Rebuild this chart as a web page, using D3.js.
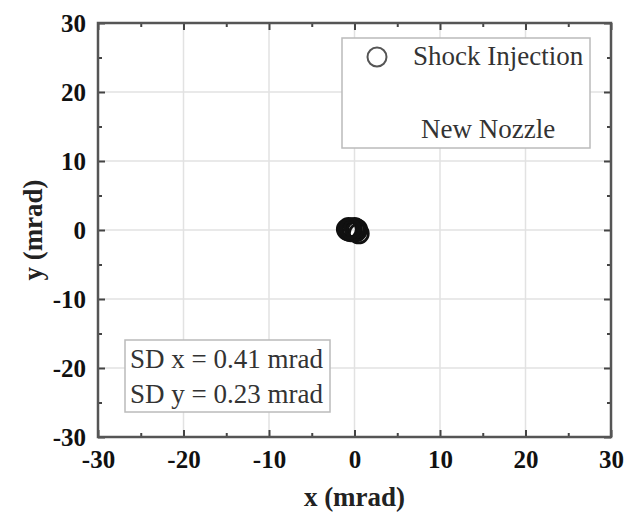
<!DOCTYPE html>
<html>
<head>
<meta charset="utf-8">
<script src="https://cdn.jsdelivr.net/npm/d3@7"></script>
<style>
body{margin:0;background:#fff}
text{font-family:"Liberation Serif","Times New Roman",serif}
</style>
</head>
<body>
<script>
const w=626
const h=516
const padL=98,padR=611,padT=23,padB=437

// shot positions (mrad)
const xs=[-0.9,-0.7,-0.5,-0.6,-0.3,-0.8,0.1,0.3,0.2,0.5,-0.4,0.0,-0.7,-0.5]
const ys=[0.1,0.3,0.0,-0.1,0.2,0.0,0.2,0.1,-0.2,-0.5,-0.2,0.3,0.1,0.2]
const majorTicks=[-30,-20,-10,0,10,20,30]
const minorTicks=[-25,-15,-5,5,15,25]
const legendLabels=["Shock Injection","New Nozzle"]
const sdLines=["SD x = 0.41 mrad","SD y = 0.23 mrad"]

const x=d3.scaleLinear().domain([-30,30]).range([padL,padR])
const y=d3.scaleLinear().domain([-30,30]).range([padB,padT])

const svg=d3.create("svg")
    .attr("width",w)
    .attr("height",h)

//grid
svg.append("g")
    .selectAll("line")
    .data(majorTicks.slice(1,-1))
    .enter().append("line")
    .attr("x1",d=>x(d)).attr("x2",d=>x(d))
    .attr("y1",padT).attr("y2",padB)
    .attr("stroke","#e2e2e2").attr("stroke-width",1.5)
svg.append("g")
    .selectAll("line")
    .data(majorTicks.slice(1,-1))
    .enter().append("line")
    .attr("x1",padL).attr("x2",padR)
    .attr("y1",d=>y(d)).attr("y2",d=>y(d))
    .attr("stroke","#e2e2e2").attr("stroke-width",1.5)

//axes, ticks pointing inward
function styleAxis(g){
    g.select(".domain").remove()
    g.selectAll("line").attr("stroke","#444").attr("stroke-width",2)
    g.selectAll("text")
        .attr("font-size",25)
        .attr("font-weight","bold")
        .attr("fill","#111")
        .attr("font-family","Liberation Serif")
}
const major=a=>a.tickValues(majorTicks).tickSizeInner(-7).tickSizeOuter(0)
const minor=a=>a.tickValues(minorTicks).tickSizeInner(-4).tickSizeOuter(0).tickFormat("")

svg.append("g").attr("transform",`translate(0,${padB})`)
    .call(major(d3.axisBottom(x)).tickPadding(13).tickFormat(d=>String(d)))
    .call(styleAxis)
svg.append("g").attr("transform",`translate(0,${padB})`)
    .call(minor(d3.axisBottom(x))).call(styleAxis)
svg.append("g").attr("transform",`translate(${padL},0)`)
    .call(major(d3.axisLeft(y)).tickPadding(12).tickFormat(d=>String(d)))
    .call(styleAxis)
svg.append("g").attr("transform",`translate(${padL},0)`)
    .call(minor(d3.axisLeft(y))).call(styleAxis)
svg.append("g").attr("transform",`translate(0,${padT})`)
    .call(major(d3.axisTop(x)).tickFormat("")).call(styleAxis)
svg.append("g").attr("transform",`translate(0,${padT})`)
    .call(minor(d3.axisTop(x))).call(styleAxis)
svg.append("g").attr("transform",`translate(${padR},0)`)
    .call(major(d3.axisRight(y)).tickFormat("")).call(styleAxis)
svg.append("g").attr("transform",`translate(${padR},0)`)
    .call(minor(d3.axisRight(y))).call(styleAxis)

//frame
svg.append("rect")
    .attr("x",padL).attr("y",padT)
    .attr("width",padR-padL).attr("height",padB-padT)
    .attr("fill","none").attr("stroke","#555").attr("stroke-width",2.5)

//points
svg.append("g")
    .selectAll("circle")
    .data(xs.map((d,i)=>[d,ys[i]]))
    .enter().append("circle")
    .attr("cx",d=>x(d[0]))
    .attr("cy",d=>y(d[1]))
    .attr("r",9.5)
    .attr("fill","none")
    .attr("stroke","#111")
    .attr("stroke-width",2.8)

//legend
svg.append("rect")
    .attr("x",342).attr("y",38).attr("width",248).attr("height",110)
    .attr("fill","#fff").attr("stroke","#bbb").attr("stroke-width",1.5)
svg.append("circle")
    .attr("cx",377).attr("cy",57).attr("r",9.5)
    .attr("fill","none").attr("stroke","#555").attr("stroke-width",2)
svg.append("text").attr("x",413).attr("y",65)
    .attr("font-size",27).attr("fill","#333").text(legendLabels[0])
svg.append("text").attr("x",421).attr("y",138)
    .attr("font-size",27).attr("fill","#333").text(legendLabels[1])

//SD box
svg.append("rect")
    .attr("x",125).attr("y",340).attr("width",205).attr("height",72)
    .attr("fill","#fff").attr("stroke","#bbb").attr("stroke-width",1.5)
svg.append("g")
    .selectAll("text")
    .data(sdLines)
    .enter().append("text")
    .attr("x",130)
    .attr("y",(d,i)=>368+i*35)
    .attr("font-size",27).attr("fill","#333")
    .text(d=>d)

//axis titles
svg.append("text")
    .attr("x",(padL+padR)/2).attr("y",506)
    .attr("text-anchor","middle")
    .attr("font-size",27).attr("font-weight","bold").attr("fill","#222")
    .text("x (mrad)")
svg.append("text")
    .attr("transform",`translate(42,${(padT+padB)/2}) rotate(-90)`)
    .attr("text-anchor","middle")
    .attr("font-size",27).attr("font-weight","bold").attr("fill","#222")
    .text("y (mrad)")

d3.select("body").append(()=>svg.node())
</script>
</body>
</html>
